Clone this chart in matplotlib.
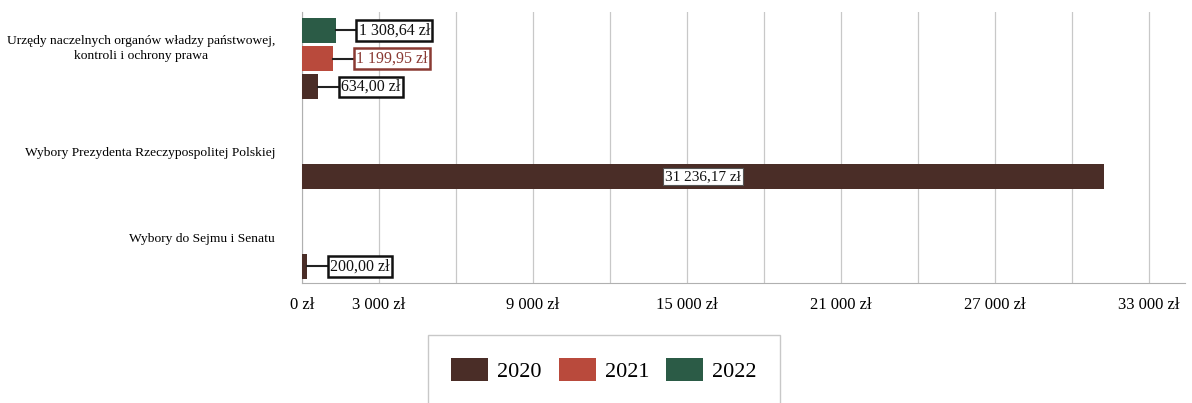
import numpy as np
import matplotlib.pyplot as plt
from matplotlib.ticker import FixedLocator

plt.rcParams['font.family'] = ['Liberation Serif', 'DejaVu Serif']

categories = ['Urzędy naczelnych organów władzy państwowej,\nkontroli i ochrony prawa',
              'Wybory Prezydenta Rzeczypospolitej Polskiej',
              'Wybory do Sejmu i Senatu']
years = ['2020', '2021', '2022']
v2020 = [634.00, 31236.17, 200.00]
v2021 = [1199.95, 0, 0]
v2022 = [1308.64, 0, 0]
labels2020 = ['634,00 zł', '31 236,17 zł', '200,00 zł']
labels2021 = ['1 199,95 zł', '', '']
labels2022 = ['1 308,64 zł', '', '']
xticks = [0, 3000, 6000, 9000, 12000, 15000, 18000, 21000, 24000, 27000, 30000, 33000]
xticklabels = ['0 zł', '3 000 zł', '', '9 000 zł', '', '15 000 zł', '',
               '21 000 zł', '', '27 000 zł', '', '33 000 zł']

colors = {'2020': '#4a2d27', '2021': '#b94a3c', '2022': '#2b5b46'}
txtcolors = {'2020': '#111111', '2021': '#8a3a33', '2022': '#111111'}

fig = plt.figure(figsize=(11.92, 4.03), dpi=100)
ax = fig.add_axes([302 / 1192, 1 - 283 / 403, (1185 - 302) / 1192, (283 - 12) / 403])

y = np.arange(len(categories))
h = 0.28
offs = {'2022': -0.315, '2021': 0.0, '2020': 0.315}
series = {'2020': (v2020, labels2020), '2021': (v2021, labels2021), '2022': (v2022, labels2022)}

for yr in years:
    vals, labs = series[yr]
    ax.barh(y + offs[yr], vals, height=h, color=colors[yr], label=yr, zorder=3)
    for i, (v, lab) in enumerate(zip(vals, labs)):
        if not lab:
            continue
        yy = y[i] + offs[yr]
        if v > 20000:
            ax.text(v / 2, yy, lab, ha='center', va='center', fontsize=11, color='#111111',
                    bbox=dict(boxstyle='square,pad=0.12', fc='white', ec='#555555', lw=0.8), zorder=5)
        else:
            xt = v + 900
            ax.plot([v, xt], [yy, yy], color='#222222', lw=1.5, zorder=4)
            ax.text(xt, yy, lab, ha='left', va='center', fontsize=11.5, color=txtcolors[yr],
                    bbox=dict(boxstyle='square,pad=0.15', fc='white',
                              ec=txtcolors[yr] if yr == '2021' else '#111111', lw=1.8), zorder=5)

ax.set_xlim(0, 34400)
ax.set_ylim(2.5, -0.52)
ax.xaxis.set_major_locator(FixedLocator(xticks))
ax.set_xticklabels(xticklabels, fontsize=12)
ax.set_yticks(y)
ax.set_yticklabels([])
ax.tick_params(axis='y', length=0)
ax.tick_params(axis='x', length=0, pad=10)

# category labels, nudged like in the original
label_shift = [-0.11, 0.05, 0.01]
for i, cat in enumerate(categories):
    ax.text(-0.0305, y[i] + label_shift[i], cat, transform=ax.get_yaxis_transform(),
            ha='right', va='center', multialignment='center', fontsize=9.7, linespacing=1.3)

ax.grid(axis='x', color='#c8c8c8', lw=0.9, zorder=0)
for s in ['top', 'right']:
    ax.spines[s].set_visible(False)
ax.spines['bottom'].set_color('#b0b0b0')
ax.spines['left'].set_color('#b0b0b0')

leg = fig.legend(loc='upper left', bbox_to_anchor=(428 / 1192, 1 - 335 / 403),
                 ncol=3, fontsize=16, frameon=True, fancybox=False,
                 handlelength=1.67, handleheight=1.2, handletextpad=0.4, columnspacing=0.75,
                 borderpad=1.05, borderaxespad=0)
leg.get_frame().set_edgecolor('#bbbbbb')
leg.get_frame().set_linewidth(1.0)

fig.savefig('out.png', dpi=100)
